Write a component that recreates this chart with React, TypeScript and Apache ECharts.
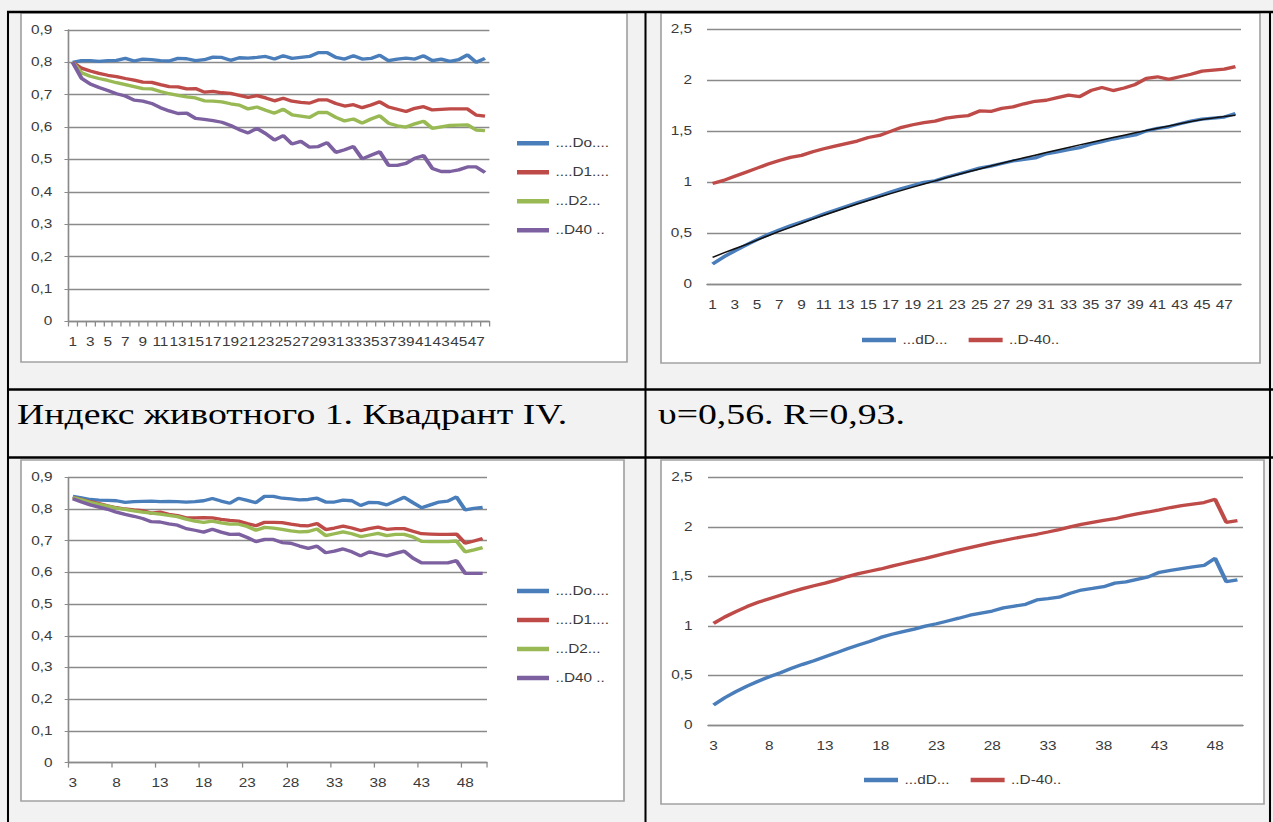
import React, { useEffect, useRef } from 'react';
import * as echarts from 'echarts';

// The whole sheet is laid out in narrow local units and widened horizontally.
const STRETCH = 1.28;
const PAGE_W = 1273;
const PAGE_H = 822;
const px = (x: number) => x / STRETCH;

// Category (time step) labels
const stepsTop = ['1','2','3','4','5','6','7','8','9','10','11','12','13','14','15','16','17','18','19','20','21','22','23','24','25','26','27','28','29','30','31','32','33','34','35','36','37','38','39','40','41','42','43','44','45','46','47','48'];
const stepsBottom = ['3','4','5','6','7','8','9','10','11','12','13','14','15','16','17','18','19','20','21','22','23','24','25','26','27','28','29','30','31','32','33','34','35','36','37','38','39','40','41','42','43','44','45','46','47','48','49','50'];

// Upper-left panel
const doTop = [0.800,0.805,0.805,0.803,0.805,0.806,0.812,0.804,0.810,0.808,0.805,0.804,0.812,0.811,0.805,0.808,0.816,0.815,0.806,0.814,0.813,0.815,0.818,0.810,0.820,0.812,0.815,0.818,0.830,0.830,0.815,0.810,0.820,0.810,0.812,0.822,0.805,0.810,0.813,0.810,0.820,0.805,0.810,0.803,0.808,0.823,0.800,0.812];
const d1Top = [0.800,0.782,0.773,0.766,0.760,0.756,0.750,0.745,0.739,0.738,0.731,0.725,0.724,0.718,0.719,0.708,0.710,0.706,0.704,0.698,0.692,0.697,0.690,0.681,0.689,0.680,0.676,0.674,0.684,0.684,0.673,0.665,0.669,0.660,0.668,0.678,0.662,0.655,0.648,0.658,0.663,0.653,0.655,0.656,0.656,0.656,0.637,0.634];
const d2Top = [0.800,0.768,0.757,0.750,0.744,0.737,0.731,0.725,0.719,0.718,0.710,0.703,0.698,0.693,0.690,0.681,0.680,0.678,0.672,0.668,0.656,0.662,0.652,0.643,0.655,0.638,0.634,0.630,0.645,0.645,0.630,0.619,0.625,0.612,0.625,0.635,0.612,0.604,0.600,0.610,0.618,0.596,0.601,0.605,0.606,0.607,0.591,0.589];
const d40Top = [0.800,0.751,0.733,0.722,0.713,0.703,0.696,0.683,0.680,0.673,0.660,0.650,0.642,0.643,0.627,0.624,0.620,0.615,0.605,0.592,0.582,0.596,0.580,0.560,0.574,0.548,0.556,0.538,0.540,0.552,0.522,0.530,0.540,0.502,0.513,0.524,0.482,0.482,0.488,0.504,0.512,0.472,0.463,0.463,0.468,0.477,0.477,0.460];

// Upper-right panel
const dDTop = [0.200,0.270,0.330,0.385,0.440,0.490,0.535,0.575,0.612,0.650,0.690,0.728,0.765,0.800,0.835,0.870,0.905,0.940,0.970,1.000,1.015,1.050,1.080,1.110,1.140,1.160,1.185,1.210,1.225,1.240,1.280,1.300,1.320,1.340,1.375,1.400,1.425,1.445,1.465,1.505,1.530,1.545,1.575,1.600,1.620,1.630,1.640,1.675];
const dm40Top = [0.990,1.020,1.060,1.100,1.140,1.180,1.215,1.245,1.265,1.300,1.330,1.355,1.380,1.405,1.440,1.460,1.500,1.540,1.565,1.585,1.600,1.630,1.645,1.655,1.700,1.695,1.725,1.740,1.770,1.795,1.805,1.830,1.855,1.840,1.900,1.930,1.900,1.925,1.960,2.020,2.035,2.010,2.035,2.060,2.090,2.100,2.110,2.135];
const trendTop = [0.265,0.310,0.350,0.390,0.435,0.478,0.520,0.560,0.600,0.640,0.678,0.715,0.752,0.788,0.823,0.857,0.890,0.922,0.954,0.985,1.015,1.045,1.075,1.104,1.132,1.160,1.187,1.214,1.241,1.267,1.293,1.318,1.343,1.368,1.392,1.416,1.440,1.463,1.486,1.509,1.531,1.553,1.575,1.596,1.617,1.632,1.645,1.658];

// Lower-left panel
const doBottom = [0.840,0.835,0.830,0.828,0.827,0.826,0.821,0.823,0.824,0.825,0.823,0.824,0.823,0.822,0.823,0.826,0.833,0.825,0.818,0.834,0.827,0.820,0.840,0.840,0.834,0.832,0.829,0.830,0.834,0.822,0.822,0.828,0.826,0.811,0.821,0.820,0.813,0.825,0.837,0.820,0.804,0.813,0.822,0.825,0.838,0.797,0.802,0.805];
const d1Bottom = [0.837,0.830,0.823,0.817,0.810,0.804,0.800,0.797,0.795,0.787,0.790,0.783,0.779,0.772,0.772,0.773,0.772,0.767,0.764,0.762,0.754,0.747,0.758,0.758,0.757,0.752,0.748,0.747,0.754,0.735,0.740,0.746,0.740,0.732,0.738,0.743,0.736,0.738,0.738,0.730,0.722,0.721,0.720,0.720,0.721,0.692,0.699,0.707];
const d2Bottom = [0.836,0.829,0.821,0.815,0.809,0.803,0.799,0.794,0.790,0.787,0.784,0.780,0.776,0.768,0.762,0.758,0.762,0.756,0.752,0.752,0.745,0.733,0.742,0.740,0.736,0.731,0.728,0.729,0.737,0.716,0.722,0.728,0.722,0.713,0.718,0.723,0.716,0.720,0.720,0.712,0.698,0.697,0.697,0.697,0.699,0.665,0.671,0.678];
const d40Bottom = [0.832,0.822,0.813,0.806,0.799,0.790,0.783,0.777,0.770,0.760,0.759,0.753,0.749,0.738,0.733,0.727,0.736,0.727,0.720,0.721,0.710,0.697,0.704,0.704,0.694,0.692,0.683,0.676,0.683,0.662,0.667,0.674,0.665,0.652,0.665,0.658,0.652,0.660,0.667,0.645,0.630,0.630,0.630,0.630,0.637,0.597,0.597,0.597];

// Lower-right panel
const dDBottom = [0.202,0.275,0.336,0.392,0.442,0.487,0.528,0.572,0.612,0.648,0.688,0.728,0.770,0.808,0.842,0.884,0.916,0.942,0.968,0.998,1.022,1.050,1.078,1.108,1.130,1.150,1.182,1.200,1.218,1.262,1.275,1.290,1.330,1.362,1.378,1.396,1.432,1.445,1.470,1.495,1.541,1.560,1.578,1.595,1.610,1.682,1.447,1.464];
const dm40Bottom = [1.026,1.090,1.144,1.195,1.238,1.275,1.310,1.345,1.376,1.405,1.432,1.462,1.498,1.528,1.552,1.575,1.603,1.630,1.656,1.682,1.710,1.738,1.765,1.790,1.815,1.840,1.862,1.885,1.905,1.925,1.948,1.972,2.000,2.025,2.045,2.065,2.082,2.108,2.130,2.150,2.172,2.195,2.215,2.230,2.245,2.278,2.046,2.063];

const legendFour = ['....Do....', '....D1....', '...D2...', '..D40 ..'];
const legendTwo = ['...dD...', '..D-40..'];

const captionLeft = 'Индекс животного 1. Квадрант IV.';
const captionRight = 'υ=0,56. R=0,93.';

const BLUE = '#4a7ebb';
const RED = '#be4b48';
const GREEN = '#98b954';
const PURPLE = '#7d60a0';
const GRID_GRAY = '#8a8a8a';
const LABEL = '#3a3a3a';
const FONT = '"Liberation Sans", Arial, sans-serif';
const SERIES_WIDTH = 3.3;

const fmt = (v: number) => (v === 0 ? '0' : String(+v.toFixed(2)).replace('.', ','));

function line(name: string, data: number[], color: string, axis: number, width = SERIES_WIDTH, z = 2) {
  return {
    type: 'line',
    name,
    data,
    xAxisIndex: axis,
    yAxisIndex: axis,
    symbol: 'none',
    showSymbol: false,
    z,
    itemStyle: { color },
    lineStyle: { color, width },
    emphasis: { disabled: true },
  };
}

function catAxis(gridIndex: number, data: string[], labelInterval: number, tickInterval: number | null, margin: number) {
  return {
    type: 'category',
    gridIndex,
    data,
    boundaryGap: true,
    axisLine: { show: true, lineStyle: { color: GRID_GRAY, width: 1.3 } },
    axisTick: tickInterval === null ? { show: false } : { show: true, interval: tickInterval, length: 5, lineStyle: { color: GRID_GRAY, width: 1 } },
    axisLabel: { interval: labelInterval, margin, fontSize: 12, color: LABEL, fontFamily: FONT },
    splitLine: { show: false },
  };
}

function valAxis(gridIndex: number, max: number, step: number, withLine: boolean, margin: number) {
  return {
    type: 'value',
    gridIndex,
    min: 0,
    max,
    interval: step,
    axisLine: { show: withLine, lineStyle: { color: GRID_GRAY, width: 1.3 } },
    axisTick: { show: withLine, length: 3, lineStyle: { color: GRID_GRAY, width: 1 } },
    axisLabel: { margin, fontSize: 12, color: LABEL, fontFamily: FONT, formatter: fmt },
    splitLine: { show: true, lineStyle: { color: GRID_GRAY, width: 1.3 } },
  };
}

function frame(x1: number, y1: number, x2: number, y2: number) {
  return {
    type: 'rect',
    z: -10,
    shape: { x: px(x1), y: y1, width: px(x2 - x1), height: y2 - y1 },
    style: { fill: '#ffffff', stroke: '#a2a2a2', lineWidth: 1.3 },
    silent: true,
  };
}

function hRule(y: number) {
  return { type: 'line', z: 50, shape: { x1: px(7), y1: y, x2: px(PAGE_W), y2: y }, style: { stroke: '#000', lineWidth: 2.4 }, silent: true };
}

function vRule(x: number) {
  return { type: 'line', z: 50, shape: { x1: px(x), y1: 11, x2: px(x), y2: PAGE_H }, style: { stroke: '#000', lineWidth: 1.6 }, silent: true };
}

function caption(text: string, x: number) {
  return {
    type: 'text',
    z: 50,
    x: px(x),
    y: 414,
    style: { text, font: '29.5px "Liberation Serif", "Times New Roman", serif', fill: '#000', verticalAlign: 'middle', align: 'left' },
    silent: true,
  };
}

const legendBase = {
  icon: 'rect',
  padding: 0,
  itemHeight: 4.5,
  selectedMode: false,
  textStyle: { fontSize: 12, color: LABEL, fontFamily: FONT, lineHeight: 14 },
};

export default function App() {
  const ref = useRef<HTMLDivElement>(null);

  useEffect(() => {
    if (!ref.current) return;
    const chart = echarts.init(ref.current, undefined, { renderer: 'svg' });
    chart.setOption({
      animation: false,
      backgroundColor: '#f2f2f2',
      grid: [
        { left: px(68.3), top: 29.9, width: px(421.1), height: 291.6 },
        { left: px(707), top: 29.3, width: px(534), height: 255.2 },
        { left: px(68.5), top: 477.3, width: px(418.5), height: 285.3 },
        { left: px(708), top: 477.3, width: px(535), height: 247.7 },
      ],
      xAxis: [
        catAxis(0, stepsTop, 1, 0, 15),
        catAxis(1, stepsTop, 1, null, 15),
        catAxis(2, stepsBottom, 4, 4, 14),
        catAxis(3, stepsBottom, 4, null, 15),
      ],
      yAxis: [
        valAxis(0, 0.9, 0.1, true, px(16)),
        valAxis(1, 2.5, 0.5, false, px(15)),
        valAxis(2, 0.9, 0.1, true, px(16)),
        valAxis(3, 2.5, 0.5, false, px(15.5)),
      ],
      legend: [
        { ...legendBase, data: legendFour, orient: 'vertical', left: px(517), top: 136.3, itemWidth: px(32), itemGap: 15 },
        { ...legendBase, data: legendTwo, orient: 'horizontal', left: px(862), top: 333, itemWidth: px(34), itemGap: px(21) },
        { ...legendBase, data: legendFour, orient: 'vertical', left: px(517), top: 584, itemWidth: px(32), itemGap: 15 },
        { ...legendBase, data: legendTwo, orient: 'horizontal', left: px(864), top: 773, itemWidth: px(34), itemGap: px(21) },
      ],
      series: [
        line(legendFour[0], doTop, BLUE, 0),
        line(legendFour[1], d1Top, RED, 0),
        line(legendFour[2], d2Top, GREEN, 0),
        line(legendFour[3], d40Top, PURPLE, 0),
        line(legendTwo[0], dDTop, BLUE, 1),
        line(legendTwo[1], dm40Top, RED, 1),
        line('trend', trendTop, '#111111', 1, 1.5, 3),
        line(legendFour[0], doBottom, BLUE, 2),
        line(legendFour[1], d1Bottom, RED, 2),
        line(legendFour[2], d2Bottom, GREEN, 2),
        line(legendFour[3], d40Bottom, PURPLE, 2),
        line(legendTwo[0], dDBottom, BLUE, 3),
        line(legendTwo[1], dm40Bottom, RED, 3),
      ],
      graphic: [
        frame(21, 13, 627, 362),
        frame(661, 13, 1260, 363),
        frame(21, 460, 624, 801),
        frame(661, 460, 1264, 804),
        hRule(12),
        hRule(389.5),
        hRule(457.5),
        vRule(8),
        vRule(645.5),
        vRule(1270),
        caption(captionLeft, 17),
        caption(captionRight, 658),
      ],
    });
    return () => chart.dispose();
  }, []);

  return (
    <div
      ref={ref}
      style={{
        position: 'fixed',
        left: 0,
        top: 0,
        width: PAGE_W / STRETCH,
        height: PAGE_H,
        transform: `scaleX(${STRETCH})`,
        transformOrigin: '0 0',
      }}
    />
  );
}
